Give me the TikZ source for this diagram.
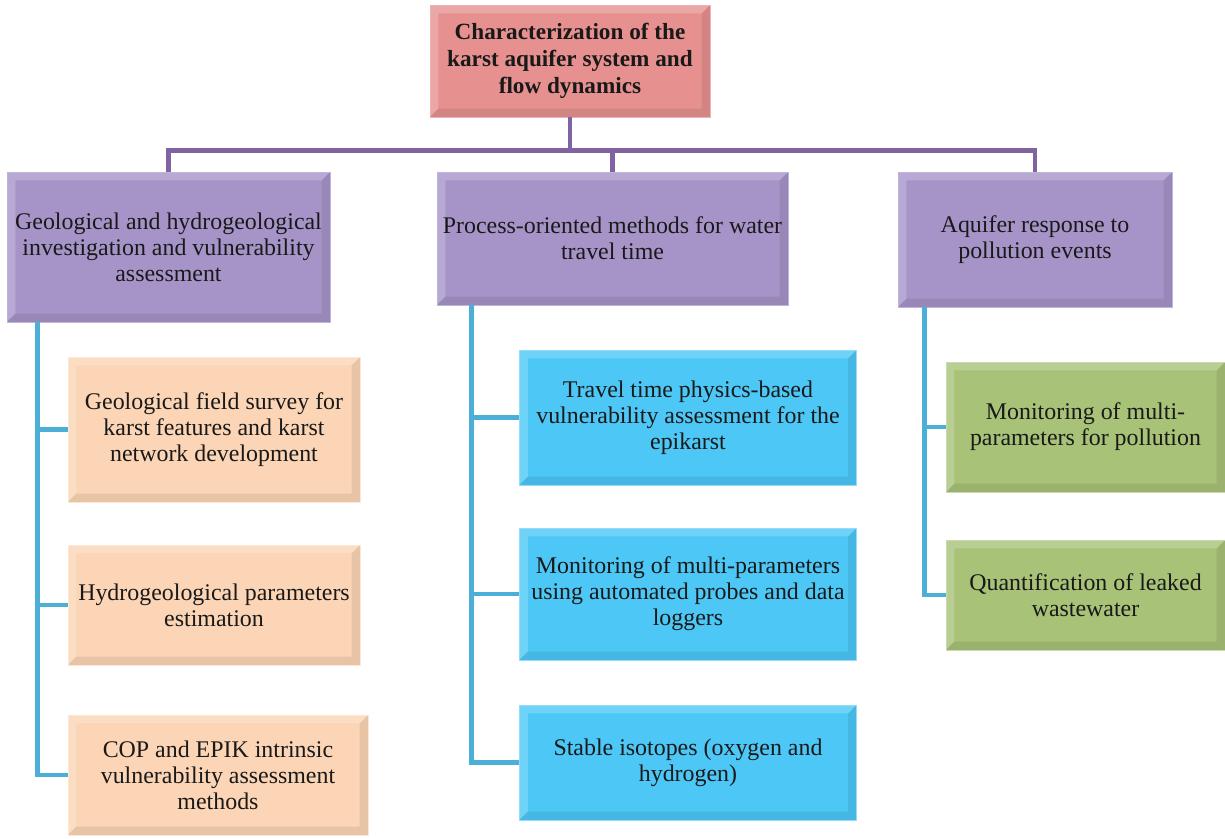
\documentclass[tikz,border=0pt]{standalone}
\usepackage{fontspec}
\setmainfont{Liberation Serif}
\usepackage{tikz}
\usetikzlibrary{positioning}

\definecolor{rootred}{RGB}{230,145,143}
\definecolor{topic}{RGB}{166,148,200}
\definecolor{peach}{RGB}{251,213,181}
\definecolor{sky}{RGB}{76,199,246}
\definecolor{olive}{RGB}{168,194,120}
\definecolor{trunkline}{RGB}{128,100,162}
\definecolor{branchline}{RGB}{75,175,215}

\tikzset{
  bevel/.style={path picture={
    \fill[white,opacity=0.2] (path picture bounding box.south west) -- (path picture bounding box.north west)
      -- (path picture bounding box.north east) -- ([shift={(-6pt,-6pt)}]path picture bounding box.north east)
      -- ([shift={(6pt,-6pt)}]path picture bounding box.north west) -- ([shift={(6pt,6pt)}]path picture bounding box.south west) -- cycle;
    \fill[black,opacity=0.08] (path picture bounding box.south west) -- (path picture bounding box.south east)
      -- (path picture bounding box.north east) -- ([shift={(-6pt,-6pt)}]path picture bounding box.north east)
      -- ([shift={(-6pt,6pt)}]path picture bounding box.south east) -- ([shift={(6pt,6pt)}]path picture bounding box.south west) -- cycle;}},
  box/.style={bevel, align=center, inner sep=2pt, font=\fontsize{17}{18.5}\selectfont, text=black!90},
  rootbox/.style={box, fill=rootred, draw=rootred!70!white, font=\fontsize{16.5}{19}\selectfont\bfseries},
  topicbox/.style={box, fill=topic, draw=topic!70!white},
  geobox/.style={box, fill=peach, draw=peach!60!white},
  procbox/.style={box, fill=sky, draw=sky!60!white},
  pollbox/.style={box, fill=olive, draw=olive!60!white},
  trunk/.style={draw=trunkline, line width=3.2pt},
  branch/.style={draw=branchline, line width=3.2pt}
}

\begin{document}
\begin{tikzpicture}[x=0.025cm,y=-0.025cm]
\useasboundingbox (0,0) rectangle (1225,838);

% top level
\node[rootbox, minimum width=7cm, minimum height=2.8cm] (root) at (570,61) {Characterization of the\\karst aquifer system and\\flow dynamics};

% three topics
\node[topicbox, minimum width=8.075cm, minimum height=3.75cm] (geo) at (168.5,247) {Geological and hydrogeological\\investigation and vulnerability\\assessment};
\node[topicbox, minimum width=8.775cm, minimum height=3.325cm] (proc) at (612.5,238.5) {Process-oriented methods for water\\travel time};
\node[topicbox, minimum width=6.85cm, minimum height=3.375cm] (resp) at (1035,239.5) {Aquifer response to\\pollution events};

\draw[trunk] (root.south) -- ++(0,33) coordinate (hub);
\foreach \t in {geo,proc,resp} \draw[trunk] (hub) -| (\t.north);

% left column
\node[geobox, minimum width=7.3cm, minimum height=3.625cm] (field) at (214,429.5) {Geological field survey for\\karst features and karst\\network development};
\node[geobox, minimum width=7.3cm, minimum height=3cm] (param) at (214,605) {Hydrogeological parameters\\estimation};
\node[geobox, minimum width=7.5cm, minimum height=3cm] (cop) at (218,775) {COP and EPIK intrinsic\\vulnerability assessment\\methods};

% middle column
\node[procbox, minimum width=8.425cm, minimum height=3.375cm] (travel) at (688,417.5) {Travel time physics-based\\vulnerability assessment for the\\epikarst};
\node[procbox, minimum width=8.425cm, minimum height=3.3cm] (probe) at (688,594) {Monitoring of multi-parameters\\using automated probes and data\\loggers};
\node[procbox, minimum width=8.425cm, minimum height=2.875cm] (iso) at (688,762.5) {Stable isotopes (oxygen and\\hydrogen)};

% right column
\node[pollbox, minimum width=6.975cm, minimum height=3.25cm] (multi) at (1085.5,427) {Monitoring of multi-\\parameters for pollution};
\node[pollbox, minimum width=6.975cm, minimum height=2.75cm] (leak) at (1085.5,595) {Quantification of leaked\\wastewater};

\path (geo.south west) ++(31,0) coordinate (g0);
\path (proc.south west) ++(35,0) coordinate (p0);
\path (resp.south west) ++(27,0) coordinate (r0);
\foreach \k in {field,param,cop} \draw[branch] (g0) |- (\k.west);
\foreach \k in {travel,probe,iso} \draw[branch] (p0) |- (\k.west);
\foreach \k in {multi,leak} \draw[branch] (r0) |- (\k.west);

\end{tikzpicture}
\end{document}
